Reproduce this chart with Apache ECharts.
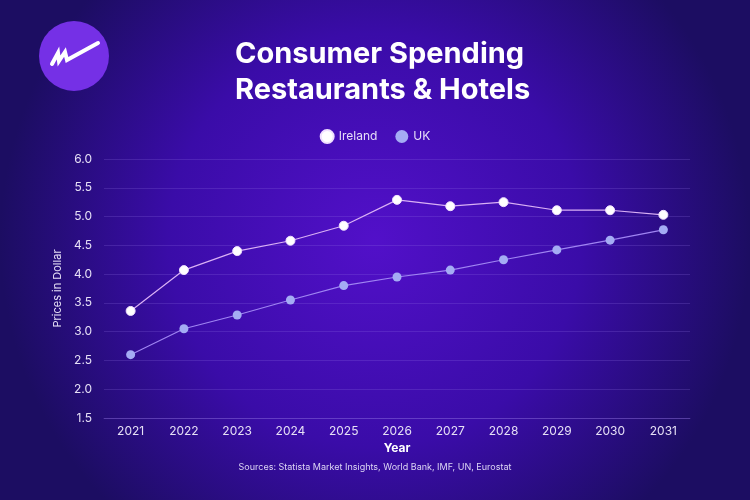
<!DOCTYPE html>
<html>
<head>
    <meta charset="utf-8">
    <script src="https://cdn.jsdelivr.net/npm/echarts@6/dist/echarts.min.js"></script>
    <style>
        body { margin: 0; }
    </style>
</head>
<body>
    <div id="main" style="width: 750px;height:500px;"></div>
    <script type="text/javascript">
        var years = ['2021', '2022', '2023', '2024', '2025', '2026', '2027', '2028', '2029', '2030', '2031'];
        var ireland = [3.36, 4.07, 4.40, 4.58, 4.84, 5.29, 5.18, 5.25, 5.11, 5.11, 5.03];
        var uk = [2.60, 3.05, 3.29, 3.55, 3.80, 3.95, 4.07, 4.25, 4.42, 4.59, 4.77];

        var chart = echarts.init(document.getElementById('main'));
        var font = 'Inter, "Open Sans", sans-serif';

        chart.setOption({
            backgroundColor: {
                type: 'radial', x: 0.5, y: 0.48, r: 0.75,
                colorStops: [
                    { offset: 0, color: '#5210c9' },
                    { offset: 0.55, color: '#3a0ca8' },
                    { offset: 1, color: '#1c0d62' }
                ]
            },
            textStyle: { fontFamily: font },
            title: {
                text: 'Consumer Spending\nRestaurants & Hotels',
                left: 230, top: 31,
                textStyle: { color: '#ffffff', fontSize: 29, fontWeight: 'bold', lineHeight: 36, fontFamily: font }
            },
            graphic: [
                { type: 'circle', shape: { cx: 74, cy: 56, r: 35 }, style: { fill: '#7530e6' } },
                {
                    type: 'polyline',
                    shape: { points: [[52, 64], [58, 53], [59, 61], [65, 52], [67, 60], [98, 43]] },
                    style: { stroke: '#ffffff', lineWidth: 4, fill: null, lineJoin: 'miter', lineCap: 'round' }
                },
                {
                    type: 'text', left: 'center', top: 463,
                    style: { text: 'Sources: Statista Market Insights, World Bank, IMF, UN, Eurostat', fill: '#ddd6f5', fontSize: 9, fontFamily: font }
                }
            ],
            legend: {
                top: 124, left: 'center',
                itemGap: 18,
                itemWidth: 13, itemHeight: 13,
                icon: 'circle',
                textStyle: { color: '#e6def8', fontSize: 12 },
                data: ['Ireland', 'UK']
            },
            grid: { left: 104, right: 60, top: 159, bottom: 82 },
            xAxis: {
                type: 'category',
                data: years,
                boundaryGap: true,
                name: 'Year',
                nameLocation: 'middle',
                nameGap: 24,
                nameTextStyle: { color: '#ffffff', fontWeight: 'bold', fontSize: 12 },
                axisLine: { lineStyle: { color: 'rgba(150,120,230,0.3)' } },
                axisTick: { show: false },
                axisLabel: { color: '#e6e0f6', fontSize: 12, margin: 7 }
            },
            yAxis: {
                type: 'value',
                min: 1.5, max: 6, interval: 0.5,
                name: 'Prices in Dollar',
                nameLocation: 'middle',
                nameGap: 34,
                nameTextStyle: { color: '#e6e0f6', fontSize: 11 },
                axisLine: { show: false },
                axisTick: { show: false },
                axisLabel: {
                    color: '#e6e0f6', fontSize: 12, margin: 12,
                    formatter: function (v) { return v.toFixed(1); }
                },
                splitLine: { lineStyle: { color: 'rgba(150,120,230,0.22)', width: 1 } }
            },
            series: [
                {
                    name: 'Ireland',
                    type: 'line',
                    data: ireland,
                    symbol: 'circle',
                    symbolSize: 9,
                    itemStyle: { color: '#ffffff', borderColor: '#f0e0ff', borderWidth: 1 },
                    lineStyle: { color: '#d9b0f5', width: 1.2 }
                },
                {
                    name: 'UK',
                    type: 'line',
                    data: uk,
                    symbol: 'circle',
                    symbolSize: 9,
                    itemStyle: { color: '#a4acf4' },
                    lineStyle: { color: '#9f84f2', width: 1.2 }
                }
            ]
        });
    </script>
</body>
</html>
